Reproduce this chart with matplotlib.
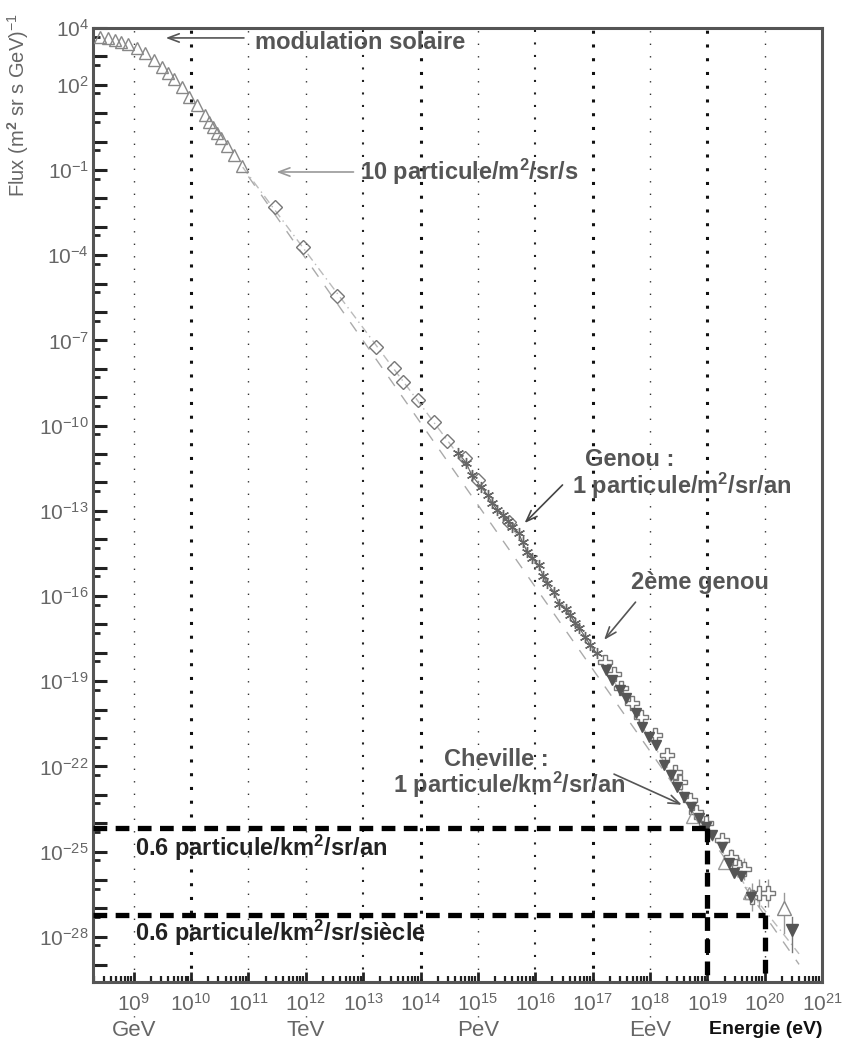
import matplotlib
matplotlib.use("Agg")
import matplotlib.pyplot as plt
import matplotlib.ticker as mticker
import numpy as np

plt.rcParams['font.family'] = ['Liberation Sans', 'DejaVu Sans']
plt.rcParams['mathtext.fontset'] = 'custom'
plt.rcParams['mathtext.rm'] = 'Liberation Sans'
plt.rcParams['mathtext.it'] = 'Liberation Sans'
plt.rcParams['mathtext.bf'] = 'Liberation Sans:bold'

# log10(E/eV), log10(flux)
tri_logE = [8.41, 8.55, 8.67, 8.77, 8.90, 9.05, 9.19, 9.35, 9.49, 9.59, 9.70,
            9.84, 9.96, 10.10, 10.24, 10.31, 10.38, 10.45, 10.53, 10.62, 10.74, 10.88]
tri_logF = [3.68, 3.65, 3.58, 3.51, 3.44, 3.30, 3.12, 2.87, 2.63, 2.42, 2.20,
            1.92, 1.57, 1.29, 0.94, 0.69, 0.51, 0.30, 0.13, -0.15, -0.47, -0.86]

dia_logE = [11.46, 11.96, 12.55, 13.23, 13.53, 13.69, 13.95, 14.24, 14.47, 14.77, 15.00, 15.55]
dia_logF = [-2.30, -3.71, -5.44, -7.23, -7.97, -8.46, -9.10, -9.87, -10.54, -11.14, -11.92, -13.40]

star_logE = [14.66, 14.80, 14.89, 15.06, 15.17, 15.25, 15.34, 15.43, 15.52, 15.60,
             15.71, 15.78, 15.86, 15.95, 16.06, 16.14, 16.21, 16.32, 16.42, 16.53,
             16.61, 16.70, 16.77, 16.87, 16.96, 17.07]
star_logF = [-10.96, -11.32, -11.74, -12.17, -12.44, -12.73, -12.97, -13.15, -13.36, -13.57,
             -13.78, -14.10, -14.45, -14.66, -14.91, -15.30, -15.54, -15.86, -16.28, -16.46,
             -16.67, -16.95, -17.13, -17.44, -17.73, -18.01]

dtri_logE = [17.24, 17.34, 17.47, 17.59, 17.76, 17.87, 17.99, 18.11, 18.25, 18.37,
             18.48, 18.60, 18.72, 18.86, 18.98, 19.09, 19.26, 19.38, 19.47, 19.59, 19.77]
dtri_logF = [-18.61, -18.96, -19.31, -19.59, -20.12, -20.61, -20.96, -21.25, -21.95, -22.30,
             -22.73, -23.08, -23.43, -23.82, -24.13, -24.42, -24.84, -25.40, -25.75, -25.86, -26.60]

cross_logE = [17.22, 17.38, 17.50, 17.68, 17.85, 18.08, 18.29, 18.43, 18.53, 18.69,
              18.81, 18.98, 19.26, 19.42, 19.56, 19.64, 19.78, 19.91, 20.05]
cross_logF = [-18.32, -18.75, -19.24, -19.77, -20.26, -20.89, -21.60, -22.20, -22.55, -23.18,
              -23.61, -23.99, -24.59, -25.19, -25.54, -25.61, -26.60, -26.46, -26.46]
cross_err = [0.0, 0.0, 0.0, 0.0, 0.0, 0.0, 0.0, 0.0, 0.0, 0.0,
             0.0, 0.15, 0.2, 0.3, 0.35, 0.4, 0.5, 0.5, 0.5]

htri_logE = [18.74, 19.30, 19.73]
htri_logF = [-23.78, -25.40, -26.46]

lim_up_logE = 20.33
lim_up_logF = -26.99
lim_up_bar = [-26.46, -27.87]
lim_dn_logE = 20.48
lim_dn_logF = -27.76
lim_dn_bar = [-27.30, -28.54]

# straight reference line and fit through the data
ref_logE = [11.0, 20.6]
ref_logF = [-1.23, -28.97]
fit_logE = [10.9, 15.5, 17.5, 18.6, 19.7, 20.6]
fit_logF = [-0.9, -13.3, -19.4, -23.0, -26.3, -28.6]

# 0.6 particule/km2/sr/an and /siecle levels
lvl_logE = [19.0, 20.0]
lvl_logF = [-24.17, -27.23]

grid_decades = [9, 10, 11, 12, 13, 14, 15, 16, 17, 18, 19, 20]
grid_weight = ['thin', 'thick', 'thin', 'thin', 'mid', 'thick', 'thin', 'mid', 'thick', 'thin', 'thick', 'thin']
xtick_decades = list(range(9, 22))
ytick_labeled = [4, 2, -1, -4, -7, -10, -13, -16, -19, -22, -25, -28]
units = ['GeV', 'TeV', 'PeV', 'EeV']
unit_decades = [9, 12, 15, 18]


def p10(v):
    return 10.0 ** np.asarray(v, dtype=float)


fig = plt.figure(figsize=(8.46, 10.51), dpi=100)
ax = fig.add_axes([93 / 846, 1 - 982 / 1051, 729 / 846, 954 / 1051])
ax.set_xscale('log')
ax.set_yscale('log')
ax.set_xlim(10 ** 8.29, 10 ** 21.0)
ax.set_ylim(10 ** -29.59, 10 ** 4)

# vertical dotted grid
styles = {'thin': (1.0, (1, 8), '#333333'),
          'mid': (1.5, (1, 5), '#222222'),
          'thick': (2.2, (1, 3.5), '#111111')}
for d, w in zip(grid_decades, grid_weight):
    lw, dash, c = styles[w]
    ax.axvline(10.0 ** d, color=c, lw=lw, linestyle=(0, dash), zorder=1)
# little dotted lines down to the unit labels
for d in unit_decades:
    ax.plot([10.0 ** d, 10.0 ** d], [-0.037, -0.027], color='#555555', lw=1.0,
            linestyle=(0, (1, 5)), transform=ax.get_xaxis_transform(), clip_on=False)

# reference lines
ax.plot(p10(ref_logE), p10(ref_logF), color='#aaaaaa', lw=1.0, linestyle=(0, (8, 8)), zorder=2)
ax.plot(p10(fit_logE), p10(fit_logF), color='#bbbbbb', lw=1.0, linestyle=(0, (6, 3, 1, 3)), zorder=2)

# data
ax.plot(p10(tri_logE), p10(tri_logF), '^', ms=8, mfc='none', mec='#888888', mew=1.0, zorder=4)
ax.plot(p10(dia_logE), p10(dia_logF), 'D', ms=7, mfc='none', mec='#777777', mew=1.0, zorder=4)
ax.plot(p10(star_logE), p10(star_logF), marker=(6, 2, 0), ls='-', lw=0.8, color='#666666',
        ms=8, mew=1.0, zorder=4)

cx = p10(cross_logE)
cy = p10(cross_logF)
ce = np.asarray(cross_err)
ax.errorbar(cx, cy, yerr=[cy - cy * 10 ** -ce, cy * 10 ** ce - cy], fmt='none',
            ecolor='#999999', elinewidth=1.0, zorder=3)
ax.plot(cx, cy, 'P', ms=10, mfc='white', mec='#777777', mew=1.0, zorder=5)
ax.plot(p10(dtri_logE), p10(dtri_logF), 'v', ms=7, color='#555555', zorder=6)
ax.plot(p10(htri_logE), p10(htri_logF), '^', ms=9, mfc='none', mec='#999999', mew=1.0, zorder=5)

ax.plot([10 ** lim_up_logE] * 2, p10(lim_up_bar), color='#999999', lw=1.0, zorder=3)
ax.plot(10 ** lim_up_logE, 10 ** lim_up_logF, '^', ms=10, mfc='white', mec='#888888', mew=1.0, zorder=5)
ax.plot([10 ** lim_dn_logE] * 2, p10(lim_dn_bar), color='#777777', lw=1.0, zorder=3)
ax.plot(10 ** lim_dn_logE, 10 ** lim_dn_logF, 'v', ms=8, color='#555555', zorder=5)

# thick black dashed levels
dash_kw = dict(color='black', lw=3.8, linestyle=(0, (2.6, 1.6)), zorder=7, solid_capstyle='butt')
x_lo = 10 ** 8.29
y_lo = 10 ** -29.59
for le, lf in zip(lvl_logE, lvl_logF):
    ax.plot([x_lo, 10.0 ** le], [10.0 ** lf, 10.0 ** lf], **dash_kw)
    ax.plot([10.0 ** le, 10.0 ** le], [10.0 ** lf, y_lo], **dash_kw)

# annotations
tc = '#555555'
bold = dict(fontweight='bold', color=tc, fontsize=17)
arr = dict(arrowstyle='->,head_length=0.8,head_width=0.3', lw=1.2)

ax.annotate('', xy=(10 ** 9.51, 10 ** 3.65), xytext=(10 ** 10.97, 10 ** 3.65),
            arrowprops=dict(color='#555555', **arr))
ax.text(10 ** 11.11, 10 ** 3.50, 'modulation solaire', ha='left', va='center', **bold)

ax.annotate('', xy=(10 ** 11.44, 10 ** -1.07), xytext=(10 ** 12.88, 10 ** -1.07),
            arrowprops=dict(color='#999999', **arr))
ax.text(10 ** 12.94, 10 ** -1.07, r'10 particule/m$^{\mathbf{2}}$/sr/s', ha='left', va='center', **bold)

ax.annotate('', xy=(10 ** 15.78, 10 ** -13.50), xytext=(10 ** 16.51, 10 ** -12.02),
            arrowprops=dict(color='#444444', **arr))
ax.text(10 ** 17.64, 10 ** -11.21, 'Genou :', ha='center', va='center', **bold)
ax.text(10 ** 18.56, 10 ** -12.13, r'1 particule/m$^{\mathbf{2}}$/sr/an', ha='center', va='center', **bold)

ax.annotate('', xy=(10 ** 17.17, 10 ** -17.62), xytext=(10 ** 17.78, 10 ** -16.14),
            arrowprops=dict(color='#555555', **arr))
ax.text(10 ** 18.88, 10 ** -15.54, '2ème genou', ha='center', va='center', **bold)

ax.annotate('', xy=(10 ** 18.60, 10 ** -23.39), xytext=(10 ** 17.33, 10 ** -22.23),
            arrowprops=dict(color='#555555', **arr))
ax.text(10 ** 15.32, 10 ** -21.77, 'Cheville :', ha='center', va='center', **bold)
ax.text(10 ** 15.55, 10 ** -22.65, r'1 particule/km$^{\mathbf{2}}$/sr/an', ha='center', va='center', **bold)

blk = dict(fontweight='bold', color='#222222', fontsize=17)
ax.text(10 ** 9.02, 10 ** -24.87, r'0.6 particule/km$^{\mathbf{2}}$/sr/an', ha='left', va='center', **blk)
ax.text(10 ** 9.02, 10 ** -27.87, r'0.6 particule/km$^{\mathbf{2}}$/sr/siècle', ha='left', va='center', **blk)

# axes frame and ticks
for s in ax.spines.values():
    s.set_color('#555555')
    s.set_linewidth(2.2)

ax.xaxis.set_major_locator(mticker.FixedLocator(p10(xtick_decades)))
ax.xaxis.set_major_formatter(mticker.FixedFormatter([r'$10^{%d}$' % d for d in xtick_decades]))
ax.xaxis.set_minor_locator(mticker.LogLocator(base=10, subs=np.arange(2, 10), numticks=40))
ax.xaxis.set_minor_formatter(mticker.NullFormatter())
ax.tick_params(axis='x', which='major', direction='in', length=7, width=2.0, color='#222222',
               labelsize=15, labelcolor='#666666', pad=8)
ax.tick_params(axis='x', which='minor', direction='in', length=4, width=1.6, color='#222222')

ydec = list(range(-29, 5))
ax.yaxis.set_major_locator(mticker.FixedLocator(p10(ydec)))
ax.yaxis.set_major_formatter(mticker.FixedFormatter(
    [r'$10^{%d}$' % d if d in ytick_labeled else '' for d in ydec]))
ax.yaxis.set_minor_locator(mticker.FixedLocator(5 * p10(ydec[:-1])))
ax.yaxis.set_minor_formatter(mticker.NullFormatter())
ax.tick_params(axis='y', which='major', direction='in', length=10, width=2.2, color='#222222',
               labelsize=15, labelcolor='#666666', pad=3)
ax.tick_params(axis='y', which='minor', direction='in', length=5, width=2.0, color='#222222')

for lbl, d in zip(units, unit_decades):
    ax.text(10.0 ** d, -0.051, lbl, transform=ax.get_xaxis_transform(), ha='center', va='center',
            fontsize=16, color='#666666')
ax.text(10 ** 20.02, -0.050, 'Energie (eV)', transform=ax.get_xaxis_transform(), ha='center', va='center',
        fontsize=14, fontweight='bold', color='#111111')

fig.text(18 / 846, 1 - 105 / 1051, r'Flux (m$^{\mathbf{2}}$ sr s GeV)$^{-1}$', rotation=90,
         ha='center', va='center', fontsize=14.5, color='#666666')

fig.savefig('out.png', dpi=100)
